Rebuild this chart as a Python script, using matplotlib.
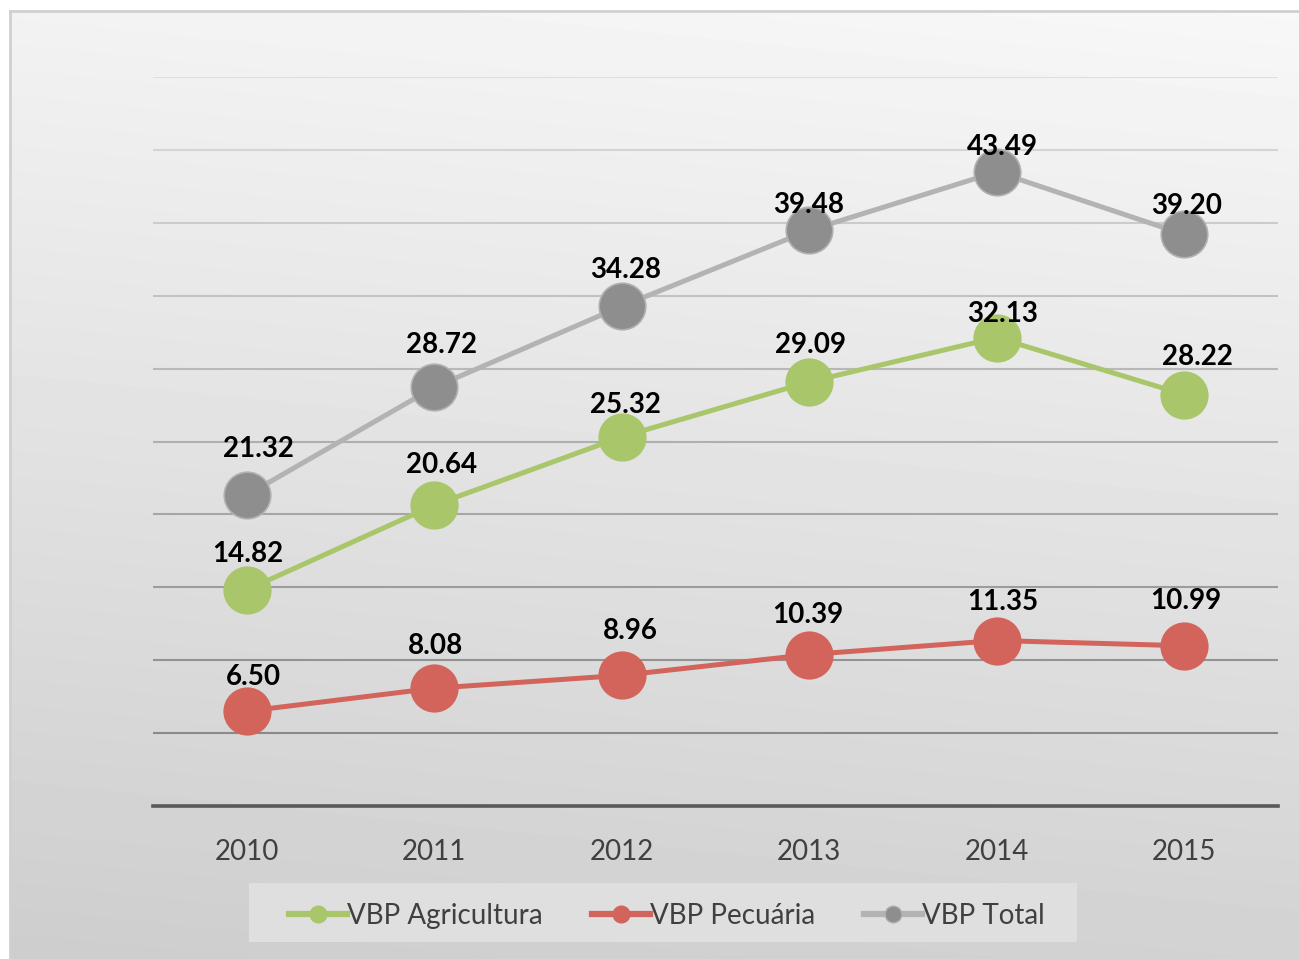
import numpy as np
import matplotlib.pyplot as plt
from matplotlib.lines import Line2D
from matplotlib.patches import Rectangle

plt.rcParams['font.family'] = ['Lato', 'DejaVu Sans']

years = ['2010', '2011', '2012', '2013', '2014', '2015']
vbp_agricultura = [14.82, 20.64, 25.32, 29.09, 32.13, 28.22]
vbp_pecuaria = [6.50, 8.08, 8.96, 10.39, 11.35, 10.99]
vbp_total = [21.32, 28.72, 34.28, 39.48, 43.49, 39.20]
grid_vals = [5, 10, 15, 20, 25, 30, 35, 40, 45, 50]

# label offsets (px, label centre relative to marker centre) - labels were hand placed
off_agri = [(1, 38), (7, 42), (4, 34), (1, 39), (6, 26), (13, 40)]
off_pec = [(7, 36), (1, 44), (9, 46), (-1, 42), (6, 41), (2, 47)]
off_total = [(12, 48), (7, 44), (4, 38), (-1, 27), (6, 27), (2, 30)]

W, H = 1299, 959
fig = plt.figure(figsize=(W / 100, H / 100), dpi=100)
fig.patch.set_facecolor('white')

# gradient background panel with thin border
bg = fig.add_axes([10 / W, 0, 1 - 10 / W, 1 - 11 / H])
yy, xx = np.mgrid[0:1:200j, 0:1:200j]
shade = 0.96 - 0.145 * yy + 0.02 * (xx - 0.5)
bg.imshow(shade, cmap='gray', vmin=0, vmax=1, aspect='auto', extent=[0, 1, 0, 1],
          origin='upper', interpolation='bilinear')
bg.set_xlim(0, 1)
bg.set_ylim(0, 1)
bg.set_xticks([])
bg.set_yticks([])
for side, sp in bg.spines.items():
    sp.set_color('#d0d0d0')
    sp.set_linewidth(2)
bg.spines['right'].set_visible(False)
bg.spines['bottom'].set_visible(False)

ax = fig.add_axes([153 / W, (H - 806) / H, 1125 / W, 729 / H])
ax.patch.set_alpha(0)
ax.set_xlim(-0.5, 5.5)
ax.set_ylim(0, 50)
x = np.arange(len(years))

for g in grid_vals:
    t = g / 50.0
    c = 0.54 + (0.87 - 0.54) * (t - 0.1) / 0.9
    ax.axhline(g, color=(c, c, c), lw=1.5, zorder=1)
ax.axhline(0, color='#595959', lw=2.6, zorder=2, clip_on=False)

series = [
    (vbp_agricultura, off_agri, '#a9c66a', '#a9c66a', '#a9c66a', 'VBP Agricultura'),
    (vbp_pecuaria, off_pec, '#d2645b', '#d2645b', '#d2645b', 'VBP Pecuária'),
    (vbp_total, off_total, '#b3b3b3', '#8e8e8e', '#b0b0b0', 'VBP Total'),
]
handles = []
for vals, offs, lc, fc, ec, name in series:
    ax.plot(x, vals, color=lc, lw=3.6, zorder=3, solid_capstyle='round')
    ax.plot(x, vals, 'o', ms=33.5, mfc=fc, mec=ec, mew=1.2, zorder=4, ls='none')
    for xi, v, (dx, dy) in zip(x, vals, offs):
        ax.annotate(f'{v:.2f}', (xi, v), xytext=(dx * 0.72, (dy - 10) * 0.72),
                    textcoords='offset points', ha='center', va='baseline',
                    fontsize=20, fontweight='bold', color='black', zorder=5)
    handles.append(Line2D([0], [0], color=lc, lw=4.5, marker='o', ms=12,
                          mfc=fc, mec=ec, label=name))

for s in ax.spines.values():
    s.set_visible(False)
ax.set_yticks([])
ax.set_xticks(x)
ax.set_xticklabels(years, fontsize=20, color='#404040')
ax.tick_params(axis='x', length=0, pad=24)

# legend box
fig.patches.append(Rectangle((249 / W, (H - 942) / H), 828 / W, 59 / H,
                             transform=fig.transFigure, facecolor='#dfdfdf',
                             edgecolor='none', zorder=1))
leg = fig.legend(handles=handles, loc='center', bbox_to_anchor=(667 / W, (H - 916) / H),
                 ncol=3, fontsize=20, frameon=False, handlelength=2.1,
                 handletextpad=0.0, columnspacing=1.75, labelcolor='#404040')
leg.set_zorder(3)

fig.savefig('out.png', dpi=100)
